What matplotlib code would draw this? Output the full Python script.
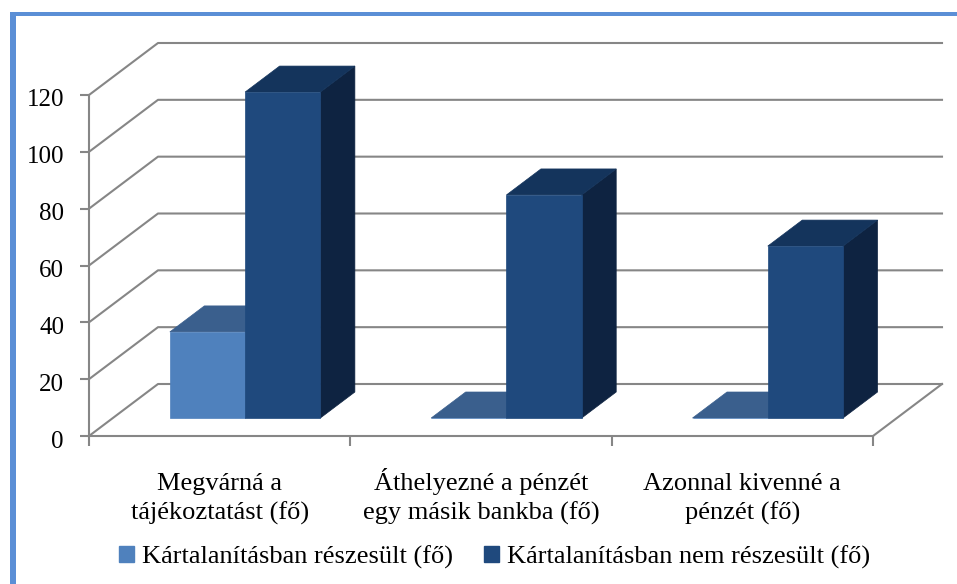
import matplotlib
matplotlib.use('Agg')
import matplotlib.pyplot as plt
from matplotlib.patches import Polygon, Patch, Rectangle
from matplotlib.transforms import ScaledTranslation

plt.rcParams['font.family'] = ['Liberation Serif', 'DejaVu Serif']

categories = ['Megvárná a\ntájékoztatást (fő)', 'Áthelyezné a pénzét\negy másik bankba (fő)', 'Azonnal kivenné a\npénzét (fő)']
series_names = ['Kártalanításban részesült (fő)', 'Kártalanításban nem részesült (fő)']
reszesult = [30.3, 0, 0]
nem_reszesult = [114.7, 78.5, 60.5]
y_ticks = [0, 20, 40, 60, 80, 100, 120]

W, H = 957, 584
GRID = '#868686'

fig = plt.figure(figsize=(W / 100, H / 100), dpi=100)
ax = fig.add_axes([89 / W, 1 - 436 / H, (873 - 89) / W, (436 - 95) / H])
ax.set_xlim(0, 3)
ax.set_ylim(0, 120)

# depth of the 3d box, in data units
depth_x = 69 / (784 / 3)
depth_y = 52 / (341 / 120)


def proj(x, v, d):
    return x + d * depth_x, v + d * depth_y


def box(x, w, v, front, top, side):
    d0, d1 = 0.346, 0.846
    faces = [
        ([proj(x + w, 0, d0), proj(x + w, 0, d1), proj(x + w, v, d1), proj(x + w, v, d0)], side),
        ([proj(x, v, d0), proj(x + w, v, d0), proj(x + w, v, d1), proj(x, v, d1)], top),
        ([proj(x, 0, d0), proj(x + w, 0, d0), proj(x + w, v, d0), proj(x, v, d0)], front),
    ]
    for pts, col in faces:
        ax.add_patch(Polygon(pts, closed=True, facecolor=col, edgecolor=col, lw=0.5, clip_on=False, zorder=3))


# walls
for t in y_ticks:
    xs, ys = zip(proj(0, t, 0), proj(0, t, 1), proj(3, t, 1))
    ax.plot(xs, ys, color=GRID, lw=1.5, clip_on=False, zorder=1)
xs, ys = zip(proj(3, 0, 1), proj(3, 0, 0))
ax.plot(xs, ys, color=GRID, lw=1.5, clip_on=False, zorder=1)

# bars
bar_w = 0.288
for i in range(3):
    x = i + 0.218
    box(x, bar_w, reszesult[i], '#4f81bd', '#3a5f8d', '#2a4a70')
    box(x + bar_w, bar_w, nem_reszesult[i], '#1f497d', '#14345c', '#0e2341')

for s in ['top', 'right']:
    ax.spines[s].set_visible(False)
for s in ['left', 'bottom']:
    ax.spines[s].set_color(GRID)
    ax.spines[s].set_linewidth(1.5)

ax.set_yticks(y_ticks)
ax.tick_params(axis='y', length=6.5, width=1.5, color=GRID, labelsize=18, pad=11.5)
nudge = ScaledTranslation(0, -3 / 100, fig.dpi_scale_trans)
for lab in ax.get_yticklabels():
    lab.set_transform(lab.get_transform() + nudge)

ax.set_xticks([0, 1, 2, 3], ['', '', '', ''])
ax.tick_params(axis='x', which='major', length=7, width=1.5, color=GRID)
ax.set_xticks([0.5, 1.5, 2.5], categories, minor=True)
# pad puts the last baseline at about y=518 px
ax.tick_params(axis='x', which='minor', length=0, labelsize=19, pad=60)
for lab in ax.get_xticklabels(minor=True):
    lab.set_linespacing(1.38)
    lab.set_ha('center')
    lab.set_va('baseline')

handles = [Patch(color='#4f81bd'), Patch(color='#1f497d')]
fig.legend(handles, series_names, ncol=2, frameon=False, fontsize=19,
           loc='center left', bbox_to_anchor=(95 / W, 1 - 557 / H),
           handlelength=0.57, handleheight=0.57, handletextpad=0.3, columnspacing=1.18)

# blue frame round the chart
frame = '#5b8fd6'
fig.add_artist(Rectangle((10 / W, 0), 5.5 / W, 1 - 12 / H, transform=fig.transFigure, color=frame, lw=0))
fig.add_artist(Rectangle((10 / W, 1 - 16 / H), 1 - 10 / W, 4 / H, transform=fig.transFigure, color=frame, lw=0))

fig.savefig('out.png', dpi=100)
